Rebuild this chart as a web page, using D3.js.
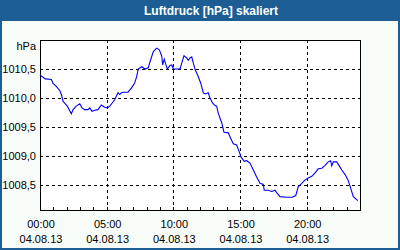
<!DOCTYPE html>
<html>
<head>
<meta charset="utf-8">
<script src="https://cdn.jsdelivr.net/npm/d3@7"></script>
<style>
  html, body { margin: 0; padding: 0; background: #fff; }
  svg { display: block; }
  text { font-family: "Liberation Sans", Arial, sans-serif; }
</style>
</head>
<body>
<div id="chart"></div>
<script>
const width = 400;
const height = 250;
const margin = { top: 40, right: 40, bottom: 40, left: 40 };

const title = 'Luftdruck [hPa] skaliert';
const unit = 'hPa';
const day = '2013-08-04';
const dayLabel = '04.08.13';

// readings of the day (time, hPa)
const times = [
  '00:00', '00:09', '00:24', '00:51', '00:59', '01:13', '01:29', '01:36', '01:44', '01:54',
  '02:03', '02:21', '02:29', '02:43', '02:59', '03:09', '03:21', '03:36', '03:44', '03:54',
  '04:06', '04:21', '04:36', '04:51', '05:03', '05:14', '05:24', '05:36', '05:51', '05:59',
  '06:06', '06:18', '06:36', '06:51', '07:06', '07:15', '07:22', '07:38', '07:53', '08:07',
  '08:18', '08:30', '08:45', '08:57', '09:08', '09:12', '09:19', '09:27', '09:33', '09:45',
  '09:53', '10:00', '10:30', '10:38', '10:48', '11:00', '11:07', '11:15', '11:23', '11:30',
  '11:38', '11:52', '12:03', '12:15', '12:23', '12:37', '12:45', '12:57', '13:08', '13:15',
  '13:22', '13:38', '13:48', '14:07', '14:20', '14:30', '14:45', '14:56', '15:05', '15:19',
  '15:30', '15:45', '16:00', '16:15', '16:30', '16:45', '16:49', '17:07', '17:23', '17:38',
  '17:45', '18:00', '18:30', '18:55', '19:11', '19:22', '19:38', '19:53', '20:07', '20:23',
  '20:38', '20:52', '21:08', '21:23', '21:37', '21:48', '21:53', '22:00', '22:15', '22:27',
  '22:38', '22:53', '23:07', '23:15', '23:30', '23:50'
];
const pressure = [
  1010.40, 1010.37, 1010.33, 1010.32, 1010.25, 1010.20, 1010.13, 1010.06, 1009.94, 1009.90,
  1009.86, 1009.73, 1009.80, 1009.86, 1009.90, 1009.83, 1009.80, 1009.80, 1009.83, 1009.77,
  1009.79, 1009.80, 1009.88, 1009.84, 1009.83, 1009.86, 1009.91, 1009.97, 1010.09, 1010.06,
  1010.09, 1010.10, 1010.10, 1010.17, 1010.26, 1010.37, 1010.50, 1010.54, 1010.50, 1010.52,
  1010.66, 1010.80, 1010.86, 1010.83, 1010.72, 1010.57, 1010.67, 1010.57, 1010.50, 1010.56,
  1010.57, 1010.50, 1010.50, 1010.60, 1010.73, 1010.69, 1010.65, 1010.69, 1010.71, 1010.60,
  1010.49, 1010.37, 1010.26, 1010.09, 1010.07, 1010.09, 1010.00, 1009.91, 1009.87, 1009.86,
  1009.74, 1009.57, 1009.41, 1009.40, 1009.29, 1009.21, 1009.19, 1009.08, 1008.98, 1008.91,
  1008.92, 1008.88, 1008.76, 1008.64, 1008.53, 1008.51, 1008.41, 1008.41, 1008.39, 1008.41,
  1008.37, 1008.30, 1008.29, 1008.29, 1008.32, 1008.47, 1008.53, 1008.59, 1008.62, 1008.65,
  1008.71, 1008.78, 1008.79, 1008.84, 1008.90, 1008.92, 1008.83, 1008.90, 1008.90, 1008.83,
  1008.76, 1008.68, 1008.58, 1008.48, 1008.30, 1008.23
];
const yTicks = [1008.5, 1009.0, 1009.5, 1010.0, 1010.5];
const yDomain = [1008.07, 1011.0];

const parse = d3.timeParse('%Y-%m-%d %H:%M');
const data = times.map((t, i) => ({ date: parse(day + ' ' + t), value: pressure[i] }));
const start = parse(day + ' 00:00');
const end = d3.timeDay.offset(start, 1);

const x = d3.scaleTime()
  .domain([start, end])
  .range([margin.left, width - margin.right]);
const y = d3.scaleLinear()
  .domain(yDomain)
  .range([height - margin.bottom, margin.top]);

const svg = d3.select('#chart').append('svg')
  .attr('width', width)
  .attr('height', height);

// frame + title bar
svg.append('rect')
  .attr('width', width).attr('height', height)
  .attr('fill', '#1c5e94');
svg.append('rect')
  .attr('x', 2).attr('y', 21)
  .attr('width', width - 4).attr('height', height - 23)
  .attr('fill', '#f8fcf8');
svg.append('text')
  .attr('x', 211).attr('y', 15)
  .attr('text-anchor', 'middle')
  .attr('fill', '#fff')
  .attr('font-weight', 'bold')
  .attr('font-size', 12)
  .text(title);

// plot area
svg.append('rect')
  .attr('x', margin.left).attr('y', margin.top)
  .attr('width', width - margin.left - margin.right)
  .attr('height', height - margin.top - margin.bottom)
  .attr('fill', '#fff');

const grid = svg.append('g')
  .attr('stroke', '#000')
  .attr('stroke-dasharray', '3,3')
  .attr('shape-rendering', 'crispEdges');
grid.selectAll('line.h')
  .data(yTicks)
  .join('line')
  .attr('class', 'h')
  .attr('x1', margin.left).attr('x2', width - margin.right)
  .attr('y1', (d) => Math.round(y(d)) + 0.5)
  .attr('y2', (d) => Math.round(y(d)) + 0.5);
const xMajor = x.ticks(d3.timeHour.every(5)).filter((d) => +d > +start && +d < +end);
grid.selectAll('line.v')
  .data(xMajor)
  .join('line')
  .attr('class', 'v')
  .attr('y1', margin.top).attr('y2', height - margin.bottom)
  .attr('x1', (d) => Math.round(x(d)) + 0.5)
  .attr('x2', (d) => Math.round(x(d)) + 0.5);

// hourly minor ticks
svg.append('g')
  .attr('stroke', '#000')
  .attr('shape-rendering', 'crispEdges')
  .selectAll('line')
  .data(d3.timeHour.range(start, end))
  .join('line')
  .attr('x1', (d) => Math.round(x(d)) + 0.5)
  .attr('x2', (d) => Math.round(x(d)) + 0.5)
  .attr('y1', height - margin.bottom - 3)
  .attr('y2', height - margin.bottom);

svg.append('rect')
  .attr('x', margin.left + 0.5).attr('y', margin.top + 0.5)
  .attr('width', width - margin.left - margin.right)
  .attr('height', height - margin.top - margin.bottom)
  .attr('fill', 'none')
  .attr('stroke', '#000')
  .attr('shape-rendering', 'crispEdges');

// line
const line = d3.line()
  .x((d) => x(d.date))
  .y((d) => y(d.value));
svg.append('path')
  .datum(data)
  .attr('fill', 'none')
  .attr('stroke', '#0000f0')
  .attr('stroke-width', 1.1)
  .attr('d', line);

// y labels
const fmt = (d) => d3.format('.1f')(d).replace('.', ',');
svg.append('g')
  .attr('font-size', 11)
  .attr('text-anchor', 'end')
  .selectAll('text')
  .data(yTicks)
  .join('text')
  .attr('x', 36)
  .attr('y', (d) => y(d) + 4)
  .text(fmt);
svg.append('text')
  .attr('x', 36).attr('y', 50)
  .attr('text-anchor', 'end')
  .attr('font-size', 11)
  .text(unit);

// x labels
const xl = svg.append('g')
  .attr('font-size', 11)
  .attr('text-anchor', 'middle')
  .selectAll('text')
  .data(x.ticks(d3.timeHour.every(5)).filter((d) => +d < +end))
  .join('text');
xl.append('tspan')
  .attr('x', (d) => x(d) + 1)
  .attr('y', 228)
  .text(d3.timeFormat('%H:%M'));
xl.append('tspan')
  .attr('x', (d) => x(d) + 1)
  .attr('y', 243)
  .text(dayLabel);
</script>
</body>
</html>
